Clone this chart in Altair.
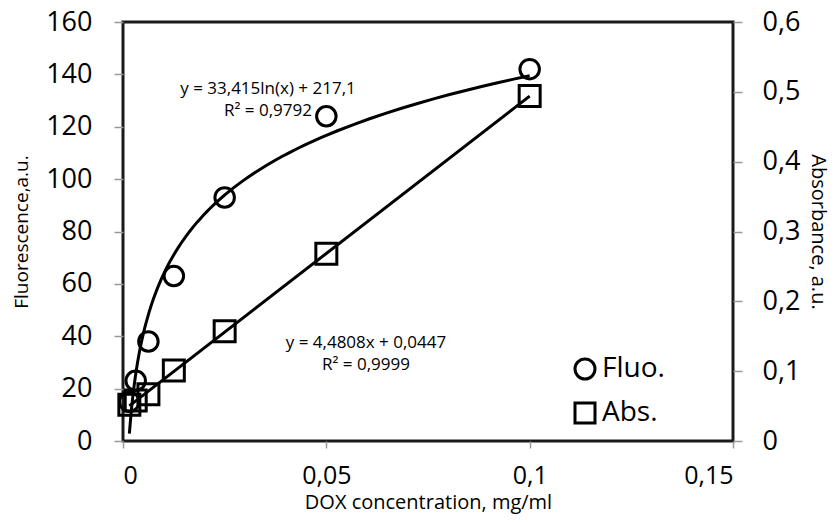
import altair as alt
import pandas as pd

# ---- data ----
conc = [0.0015625, 0.003125, 0.00625, 0.0125, 0.025, 0.05, 0.1]
fluo_vals = [15, 23, 38, 63, 93, 124, 142]
abs_vals = [0.052, 0.058, 0.067, 0.101, 0.157, 0.268, 0.494]
series_names = ["Fluo.", "Abs."]
x_ticks = [0, 0.05, 0.1, 0.15]
fluo_ticks = [0, 20, 40, 60, 80, 100, 120, 140, 160]
abs_ticks = [0, 0.1, 0.2, 0.3, 0.4, 0.5, 0.6]
fluo_eq = ["y = 33,415ln(x) + 217,1", "R² = 0,9792"]
abs_eq = ["y = 4,4808x + 0,0447", "R² = 0,9999"]

FONT = "Open Sans"
W, H = 610, 419

fl = pd.DataFrame({"conc": conc, "value": fluo_vals, "series": series_names[0]})
ab = pd.DataFrame({"conc": conc, "value": abs_vals, "series": series_names[1]})

comma = "replace(format(datum.value, '.2~f'), '.', ',')"

x_enc = alt.X(
    "conc:Q",
    scale=alt.Scale(domain=[0, 0.15], nice=False, zero=False),
    axis=alt.Axis(
        values=x_ticks, labelExpr=comma, title="DOX concentration, mg/ml",
        grid=False, domain=False, tickColor="#999", tickSize=7, tickWidth=1.5,
        labelFont=FONT, labelFontSize=25, labelColor="#000", labelPadding=15,
        titleFont=FONT, titleFontSize=20, titleFontWeight="normal",
        titleColor="#000", titlePadding=4,
    ),
)

y_left = alt.Y(
    "value:Q",
    scale=alt.Scale(domain=[0, 160], nice=False),
    axis=alt.Axis(
        values=fluo_ticks, title="Fluorescence,a.u.", orient="left",
        grid=False, domain=False, tickColor="#999", tickSize=9, tickWidth=1.5,
        labelFont=FONT, labelFontSize=27, labelColor="#000", labelPadding=22,
        titleFont=FONT, titleFontSize=19, titleFontWeight="normal",
        titleColor="#000", titlePadding=14,
    ),
)

y_right = alt.Y(
    "value:Q",
    scale=alt.Scale(domain=[0, 0.6], nice=False),
    axis=alt.Axis(
        values=abs_ticks, labelExpr=comma, title="Absorbance, a.u.", orient="right",
        grid=False, domain=False, tickColor="#999", tickSize=9, tickWidth=1.5,
        labelFont=FONT, labelFontSize=27, labelColor="#000", labelPadding=20,
        titleFont=FONT, titleFontSize=20, titleFontWeight="normal",
        titleColor="#000", titlePadding=8,
    ),
)

shape_enc = alt.Shape(
    "series:N",
    scale=alt.Scale(domain=series_names, range=["circle", "square"]),
    legend=alt.Legend(
        orient="none", legendX=448, legendY=333, title=None,
        labelFont=FONT, labelFontSize=28, labelColor="#000", labelOffset=3,
        symbolSize=400, symbolStrokeWidth=3, symbolStrokeColor="#000",
        symbolFillColor="transparent", rowPadding=12,
    ),
)

fluo_pts = alt.Chart(fl).mark_point(
    filled=False, color="#000", strokeWidth=3, size=380, opacity=1
).encode(x=x_enc, y=y_left, shape=shape_enc)
fluo_fit = alt.Chart(fl).transform_regression(
    "conc", "value", method="log"
).mark_line(color="#000", strokeWidth=3).encode(x=x_enc, y=y_left)

abs_pts = alt.Chart(ab).mark_point(
    filled=False, color="#000", strokeWidth=3, size=440, opacity=1
).encode(x=x_enc, y=y_right, shape=shape_enc)
abs_fit = alt.Chart(ab).transform_regression(
    "conc", "value", method="linear"
).mark_line(color="#000", strokeWidth=3).encode(x=x_enc, y=y_right)

def label(lines, px, py):
    return alt.Chart(pd.DataFrame({"t": ["\n".join(lines)]})).mark_text(
        font=FONT, fontSize=17, color="#000", align="center", baseline="middle",
        lineBreak="\n", lineHeight=22,
    ).encode(x=alt.value(px), y=alt.value(py), text="t:N")

left = alt.layer(fluo_fit, fluo_pts)
right = alt.layer(abs_fit, abs_pts)

chart = alt.layer(
    left, right,
    label(fluo_eq, 145, 67),
    label(abs_eq, 243, 321),
).resolve_scale(y="independent").properties(
    width=W, height=H,
    autosize=alt.AutoSizeParams(type="none"),
    padding={"left": 115, "top": 14, "right": 99, "bottom": 73},
).configure_view(stroke="#1a1a1a", strokeWidth=3)

chart.save("out.html", embed_options={"renderer": "svg", "actions": False})
